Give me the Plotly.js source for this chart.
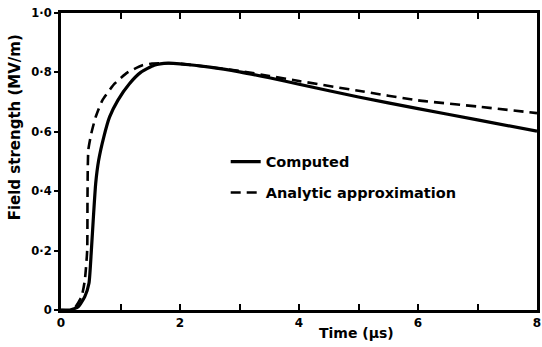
<!DOCTYPE html>
<html>
<head>
<meta charset="utf-8">
<script src="https://cdn.plot.ly/plotly-3.0.1.min.js"></script>
<style>html,body{margin:0;padding:0;background:#fff;}#chart{width:542px;height:347px;}</style>
</head>
<body>
<div id="chart"></div>
<script>
// Computed field strength (MV/m) vs time (µs)
const tComputed = [0, 0.15, 0.29, 0.4, 0.47, 0.51, 0.545, 0.583, 0.633, 0.72, 0.817, 0.955, 1.15, 1.345, 1.567, 1.8, 2.0, 2.5, 3.0, 3.5, 4.0, 5.0, 6.0, 7.0, 8.0];
const vComputed = [0, 0, 0.011, 0.045, 0.09, 0.2, 0.314, 0.426, 0.504, 0.583, 0.65, 0.706, 0.762, 0.801, 0.824, 0.831, 0.829, 0.818, 0.802, 0.782, 0.76, 0.717, 0.678, 0.64, 0.602];
// Analytic approximation
const tAnalytic = [0, 0.2, 0.345, 0.4, 0.44, 0.445, 0.45, 0.46, 0.51, 0.583, 0.695, 0.9, 1.12, 1.37, 1.53, 1.8, 2.0, 2.5, 3.0, 3.5, 4.0, 5.0, 6.0, 7.0, 8.0];
const vAnalytic = [0, 0, 0.045, 0.1, 0.2, 0.37, 0.48, 0.54, 0.595, 0.65, 0.706, 0.762, 0.8, 0.824, 0.83, 0.831, 0.829, 0.818, 0.805, 0.788, 0.771, 0.738, 0.706, 0.685, 0.663];
// Tick labels
const xTickVals = [0, 1, 2, 3, 4, 5, 6, 7, 8];
const xTickText = ['0', '', '2', '', '4', '', '6', '', '8'];
const yTickVals = [0, 0.2, 0.4, 0.6, 0.8, 1.0];
const yTickText = ['0', '0·2', '0·4', '0·6', '0·8', '1·0'];
const seriesNames = ['Computed', 'Analytic approximation'];

const FONT = 'DejaVu Sans, sans-serif';
const BLACK = '#000000';

const traces = [
  {x: tComputed, y: vComputed, name: seriesNames[0], mode: 'lines', legendgroup: 'a',
   line: {color: BLACK, width: 3.2, shape: 'spline', smoothing: 0.5}},
  {x: tAnalytic, y: vAnalytic, name: seriesNames[1], mode: 'lines', legendgroup: 'b',
   line: {color: BLACK, width: 2.6, dash: '10px,6px', shape: 'spline', smoothing: 0.5}}
];

const layout = {
  width: 542, height: 347,
  margin: {l: 61, r: 5, t: 13, b: 37, pad: 0},
  paper_bgcolor: '#fff', plot_bgcolor: '#fff',
  font: {family: FONT, color: BLACK, size: 13, weight: 'bold'},
  showlegend: true,
  legend: {x: 0.346, y: 0.553, xanchor: 'left', yanchor: 'top', bgcolor: 'rgba(0,0,0,0)',
           font: {family: FONT, size: 14.5, weight: 'bold', color: BLACK}, traceorder: 'grouped', tracegroupgap: 9},
  xaxis: {range: [0, 8], tickvals: xTickVals, ticktext: xTickText, ticks: 'inside', ticklen: 6, tickwidth: 2,
          tickcolor: BLACK, showline: true, linewidth: 3, linecolor: BLACK, mirror: 'ticks',
          showgrid: false, zeroline: false, tickfont: {family: FONT, size: 12, weight: 'bold', color: BLACK}},
  yaxis: {range: [0, 1.0], tickvals: yTickVals, ticktext: yTickText, ticks: 'outside', ticklen: 4, tickwidth: 2,
          tickcolor: BLACK, showline: true, linewidth: 3, linecolor: BLACK, mirror: true,
          showgrid: false, zeroline: false, tickfont: {family: FONT, size: 11.5, weight: 'bold', color: BLACK}},
  annotations: [
    {text: 'Field strength (MV/m)', xref: 'paper', yref: 'paper', x: -0.096, y: 0.616,
     xanchor: 'center', yanchor: 'middle', textangle: -90,
     showarrow: false, font: {family: FONT, size: 15, weight: 'bold', color: BLACK}},
    {text: 'Time (µs)', xref: 'paper', yref: 'paper', x: 0.62, y: -0.077,
     xanchor: 'center', yanchor: 'middle', showarrow: false,
     font: {family: FONT, size: 14, weight: 'bold', color: BLACK}}
  ]
};

Plotly.newPlot('chart', traces, layout, {displayModeBar: false, staticPlot: true});
</script>
</body>
</html>
